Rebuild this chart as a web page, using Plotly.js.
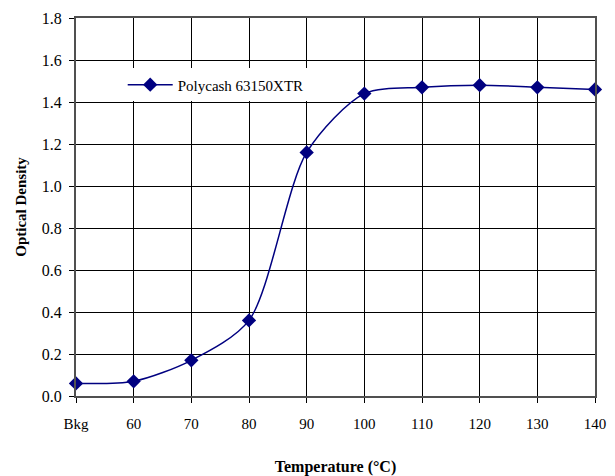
<!DOCTYPE html>
<html>
<head>
<meta charset="utf-8">
<script src="https://cdn.plot.ly/plotly-3.0.1.min.js"></script>
<style>html,body{margin:0;padding:0;background:#fff;}#chart{width:615px;height:476px;}</style>
</head>
<body>
<div id="chart"></div>
<script>
var categories = ["Bkg", "60", "70", "80", "90", "100", "110", "120", "130", "140"];
var opticalDensity = [0.06, 0.07, 0.17, 0.36, 1.16, 1.44, 1.47, 1.48, 1.47, 1.46];
var seriesName = "Polycash 63150XTR";
var yTicks = [0, 0.2, 0.4, 0.6, 0.8, 1.0, 1.2, 1.4, 1.6, 1.8];

var xIdx = categories.map(function (c, i) { return i; });

var trace = {
  x: xIdx,
  y: opticalDensity,
  name: seriesName,
  type: "scatter",
  mode: "lines+markers",
  line: { color: "#000080", width: 1.5, shape: "spline", smoothing: 0.8 },
  marker: { symbol: "diamond", size: 11, color: "#000080" },
  cliponaxis: false
};

var fam = "Liberation Serif";

var layout = {
  width: 615,
  height: 476,
  margin: { l: 76, r: 20, t: 18, b: 80 },
  paper_bgcolor: "#fff",
  plot_bgcolor: "#fff",
  font: { family: fam, color: "#000", size: 15 },
  showlegend: true,
  legend: {
    x: 0.09, y: 0.823, xanchor: "left", yanchor: "middle",
    bgcolor: "#fff", borderwidth: 0,
    font: { family: fam, size: 15, color: "#000" },
    itemwidth: 45
  },
  xaxis: {
    range: [0, categories.length - 1],
    tickmode: "array",
    tickvals: xIdx,
    ticktext: categories,
    showgrid: true,
    gridcolor: "#000",
    gridwidth: 1,
    showline: true,
    linecolor: "#505050",
    linewidth: 2,
    mirror: true,
    ticks: "outside",
    ticklen: 5,
    tickcolor: "#000",
    ticklabelstandoff: 8,
    tickfont: { family: fam, size: 15, color: "#000" },
    zeroline: false,
    title: { text: "<b>Temperature (°C)</b>", font: { family: fam, size: 16, color: "#000" }, standoff: 32 }
  },
  yaxis: {
    range: [0, 1.8],
    tickmode: "array",
    tickvals: yTicks,
    ticktext: yTicks.map(function (v) { return v.toFixed(1); }),
    showgrid: true,
    gridcolor: "#000",
    gridwidth: 1,
    showline: true,
    linecolor: "#505050",
    linewidth: 2,
    mirror: true,
    ticks: "outside",
    ticklen: 5,
    tickcolor: "#000",
    ticklabelstandoff: 4,
    tickfont: { family: fam, size: 16, color: "#000" },
    zeroline: false,
    title: { text: "<b>Optical Density</b>", font: { family: fam, size: 15, color: "#000" }, standoff: 12 }
  }
};

Plotly.newPlot("chart", [trace], layout, { displayModeBar: false, staticPlot: true });
</script>
</body>
</html>
